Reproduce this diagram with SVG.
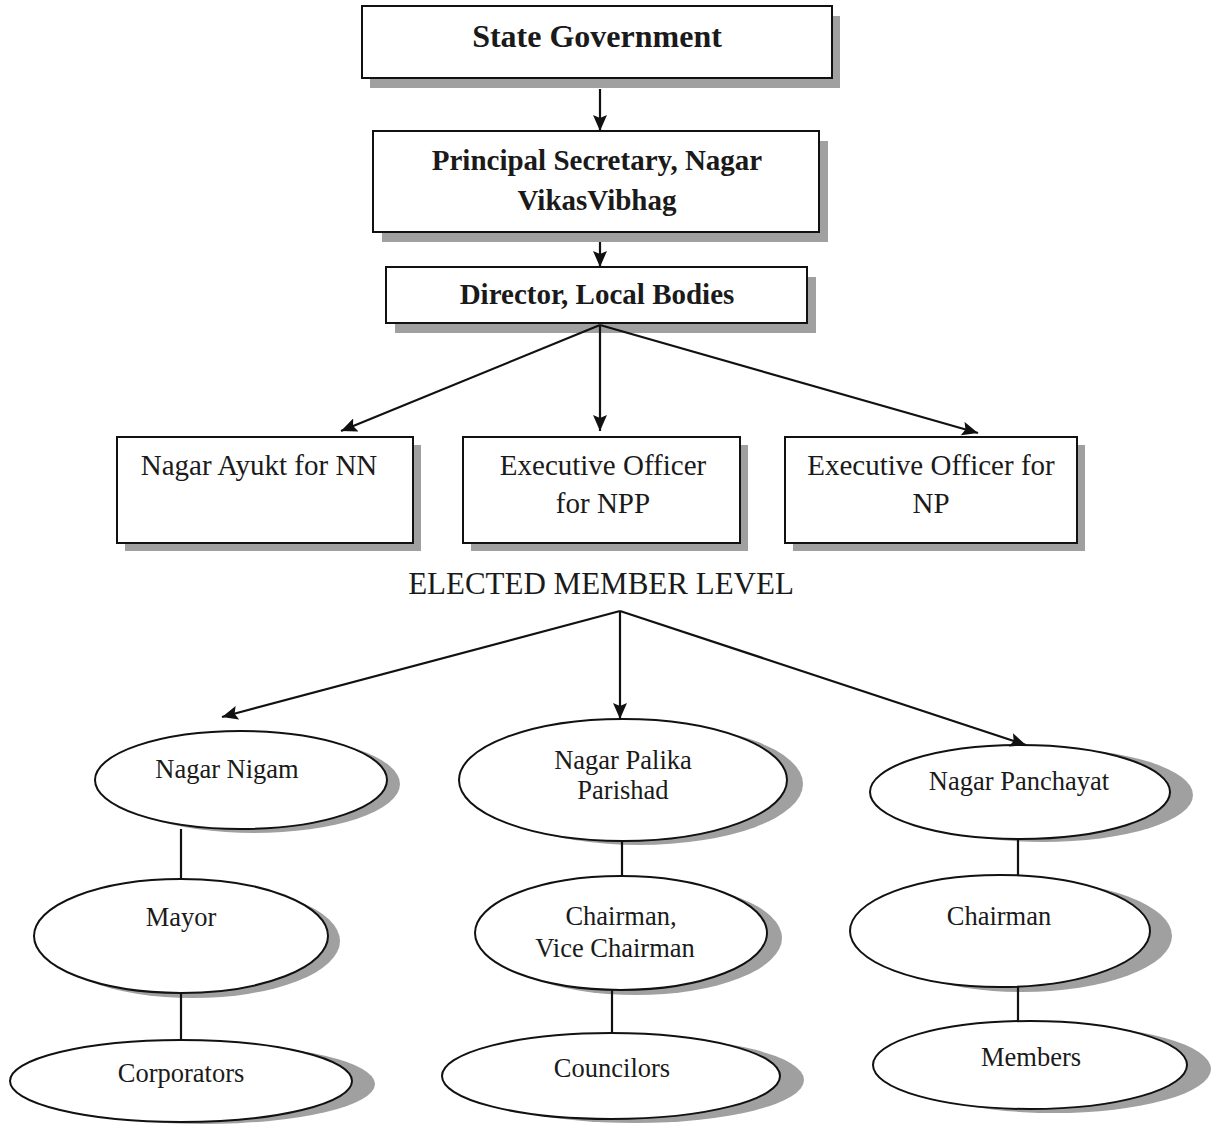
<svg xmlns="http://www.w3.org/2000/svg" width="1214" height="1124" viewBox="0 0 1214 1124">
<style>
  .shadow { fill: #a0a0a0; stroke: none; }
  .box { fill: #ffffff; stroke: #111111; stroke-width: 2; }
  .ell { fill: #ffffff; stroke: #111111; stroke-width: 2; }
  .conn { stroke: #111111; stroke-width: 2.2; fill: none; }
  .hb { font-family: "Liberation Serif", "Times New Roman", serif; font-weight: bold; fill: #1a1a1a; text-anchor: middle; }
  .tx { font-family: "Liberation Serif", "Times New Roman", serif; fill: #1a1a1a; text-anchor: middle; }
</style>
<defs>
  <marker id="arrow" viewBox="0 0 16 14" refX="16" refY="7" markerWidth="16" markerHeight="14" markerUnits="userSpaceOnUse" orient="auto">
    <path d="M0,0 L16,7 L0,14 L3,7 z" fill="#111111"/>
  </marker>
</defs>
<rect width="1214" height="1124" fill="#ffffff"/>

<g id="state-government">
  <rect class="shadow" x="370" y="16" width="470" height="72"/>
  <rect class="box" x="362" y="6" width="470" height="72"/>
  <text class="hb" x="597" y="47" font-size="32">State Government</text>
</g>
<g id="principal-secretary">
  <rect class="shadow" x="382" y="141" width="446" height="101"/>
  <rect class="box" x="373" y="131" width="446" height="101"/>
  <text class="hb" x="597" y="170" font-size="29">Principal Secretary, Nagar</text>
  <text class="hb" x="597" y="210" font-size="29">VikasVibhag</text>
</g>
<g id="director-local-bodies">
  <rect class="shadow" x="395" y="277" width="421" height="56"/>
  <rect class="box" x="386" y="267" width="421" height="56"/>
  <text class="hb" x="597" y="304" font-size="29">Director, Local Bodies</text>
</g>
<g id="nagar-ayukt">
  <rect class="shadow" x="125" y="445" width="296" height="106"/>
  <rect class="box" x="117" y="437" width="296" height="106"/>
  <text class="tx" x="259" y="475" font-size="29">Nagar Ayukt for NN</text>
</g>
<g id="eo-npp">
  <rect class="shadow" x="471" y="445" width="277" height="106"/>
  <rect class="box" x="463" y="437" width="277" height="106"/>
  <text class="tx" x="603" y="475" font-size="29">Executive Officer</text>
  <text class="tx" x="603" y="513" font-size="29">for NPP</text>
</g>
<g id="eo-np">
  <rect class="shadow" x="793" y="445" width="292" height="106"/>
  <rect class="box" x="785" y="437" width="292" height="106"/>
  <text class="tx" x="931" y="475" font-size="29">Executive Officer for</text>
  <text class="tx" x="931" y="513" font-size="29">NP</text>
</g>

<g id="elected-member-level">
  <text class="tx" x="601" y="594" font-size="31">ELECTED MEMBER LEVEL</text>
</g>

<g id="nagar-nigam">
  <ellipse class="shadow" cx="254" cy="784" rx="146" ry="49"/>
  <ellipse class="ell" cx="241" cy="780" rx="146" ry="49"/>
  <text class="tx" x="227" y="778" font-size="26.5">Nagar Nigam</text>
</g>
<g id="mayor">
  <ellipse class="shadow" cx="193" cy="941" rx="147" ry="57"/>
  <ellipse class="ell" cx="181" cy="936" rx="147" ry="57"/>
  <text class="tx" x="181" y="926" font-size="26.5">Mayor</text>
</g>
<g id="corporators">
  <ellipse class="shadow" cx="204" cy="1084" rx="171" ry="40"/>
  <ellipse class="ell" cx="181" cy="1081" rx="171" ry="41"/>
  <text class="tx" x="181" y="1082" font-size="26.5">Corporators</text>
</g>
<g id="nagar-palika-parishad">
  <ellipse class="shadow" cx="639" cy="784" rx="164" ry="61"/>
  <ellipse class="ell" cx="623" cy="780" rx="164" ry="61"/>
  <text class="tx" x="623" y="769" font-size="26.5">Nagar Palika</text>
  <text class="tx" x="623" y="799" font-size="26.5">Parishad</text>
</g>
<g id="chairman-vice-chairman">
  <ellipse class="shadow" cx="636" cy="938" rx="146" ry="57"/>
  <ellipse class="ell" cx="621" cy="933" rx="146" ry="57"/>
  <text class="tx" x="621" y="925" font-size="26.5">Chairman,</text>
  <text class="tx" x="615" y="957" font-size="26.5">Vice Chairman</text>
</g>
<g id="councilors">
  <ellipse class="shadow" cx="635" cy="1080" rx="169" ry="43"/>
  <ellipse class="ell" cx="611" cy="1076" rx="169" ry="43"/>
  <text class="tx" x="612" y="1077" font-size="26.5">Councilors</text>
</g>
<g id="nagar-panchayat">
  <ellipse class="shadow" cx="1043" cy="795" rx="150" ry="47"/>
  <ellipse class="ell" cx="1020" cy="792" rx="150" ry="47"/>
  <text class="tx" x="1019" y="790" font-size="26.5">Nagar Panchayat</text>
</g>
<g id="chairman">
  <ellipse class="shadow" cx="1022" cy="936" rx="150" ry="56"/>
  <ellipse class="ell" cx="1000" cy="931" rx="150" ry="56"/>
  <text class="tx" x="999" y="925" font-size="26.5">Chairman</text>
</g>
<g id="members">
  <ellipse class="shadow" cx="1054" cy="1069" rx="157" ry="44"/>
  <ellipse class="ell" cx="1030" cy="1065" rx="157" ry="44"/>
  <text class="tx" x="1031" y="1066" font-size="26.5">Members</text>
</g>

<g id="connectors">
  <line class="conn" x1="600" y1="89" x2="600" y2="131" marker-end="url(#arrow)"/>
  <line class="conn" x1="600" y1="242" x2="600" y2="267" marker-end="url(#arrow)"/>
  <line class="conn" x1="600" y1="325" x2="341" y2="431" marker-end="url(#arrow)"/>
  <line class="conn" x1="600" y1="325" x2="600" y2="431" marker-end="url(#arrow)"/>
  <line class="conn" x1="600" y1="325" x2="978" y2="433" marker-end="url(#arrow)"/>
  <line class="conn" x1="620" y1="611" x2="222" y2="717" marker-end="url(#arrow)"/>
  <line class="conn" x1="620" y1="611" x2="620" y2="719" marker-end="url(#arrow)"/>
  <line class="conn" x1="620" y1="611" x2="1026" y2="745" marker-end="url(#arrow)"/>
  <line class="conn" x1="181" y1="829" x2="181" y2="879"/>
  <line class="conn" x1="181" y1="993" x2="181" y2="1040"/>
  <line class="conn" x1="622" y1="841" x2="622" y2="876"/>
  <line class="conn" x1="612" y1="990" x2="612" y2="1033"/>
  <line class="conn" x1="1018" y1="839" x2="1018" y2="875"/>
  <line class="conn" x1="1018" y1="987" x2="1018" y2="1021"/>
</g>
</svg>
